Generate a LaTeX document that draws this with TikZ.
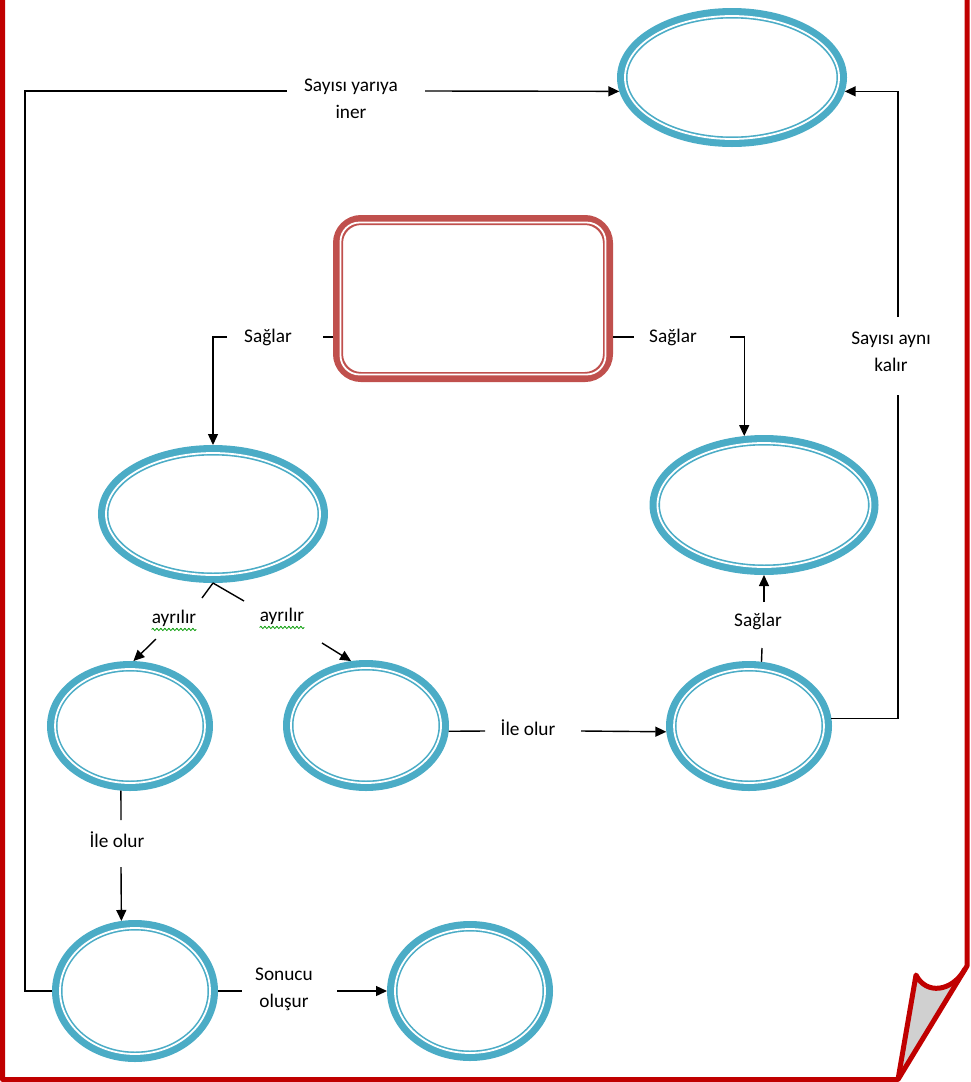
\documentclass[tikz,border=0pt]{standalone}
\usepackage{fontspec}
\setmainfont{Carlito}
\usetikzlibrary{arrows.meta,calc,decorations.pathmorphing,shapes.geometric}
\definecolor{ringblue}{HTML}{4BACC6}
\definecolor{boxred}{HTML}{C0504D}
\definecolor{pagered}{HTML}{C00000}
\definecolor{foldgray}{HTML}{D0D0D0}
\tikzset{
  ringnode/.style={ellipse, draw=ringblue, line width=10.5pt, inner sep=0pt, outer sep=5.25pt},
  ringline/.style={white, line width=1.8pt},
  conn/.style={line width=1.4pt, black},
  arr/.style={conn, -{Triangle[length=11pt,width=10pt]}},
  lbl/.style={inner sep=0pt, font=\fontsize{19.3}{27}\selectfont, align=center},
  wavy/.style={green!60!black, line width=0.8pt, decorate, decoration={snake, amplitude=1.1pt, segment length=4pt}},
  pageline/.style={pagered, line width=5pt, line join=round},
}
\newcommand\ringat[5]{%
  \node[ringnode, minimum width={2*(#4)-10.5}, minimum height={2*(#5)-10.5}] (#1) at (#2,#3) {};
  \draw[ringline] (#2,#3) ellipse [x radius={#4-8}, y radius={#5-8}];
}
\begin{document}
\begin{tikzpicture}[x=1pt,y=-1pt]
\useasboundingbox (0,0) rectangle (970,1082);
% page border and folded corner
\fill[foldgray] (916,975) .. controls (926,995) and (952,992) .. (965,970) -- (898,1079.5) -- cycle;
\draw[pageline] (967,0) -- (967,966) -- (898,1079.5) -- (2.5,1079.5) -- (2.5,0);
\draw[pageline] (965,969) .. controls (952,992) and (926,995) .. (916,975) -- (898,1079.5);
% central rounded box
\node[draw=boxred, line width=10pt, rounded corners=23pt, minimum width=270, minimum height=157, inner sep=0pt, outer sep=5pt] (R) at (473,298.5) {};
\draw[white, line width=1.8pt, rounded corners=19pt] ($(R.north west)+(7.5,7.5)$) rectangle ($(R.south east)+(-7.5,-7.5)$);
% ellipses
\ringat{E1}{732}{77.5}{115}{69.5}
\ringat{E2}{213}{514}{115}{69}
\ringat{E3}{764}{505}{114.5}{70}
\ringat{E4}{130}{726}{83}{65}
\ringat{E5}{366}{725.5}{83}{65.5}
\ringat{E6}{749}{726}{83}{65}
\ringat{E7}{135}{991}{83}{71}
\ringat{E8}{470}{991}{83}{70}
% labels
\node[lbl] (L1) at (351,99) {Sayısı yarıya\\iner};
\node[lbl] (L2) at (268,337) {Sağlar};
\node[lbl] (L3) at (673,337) {Sağlar};
\node[lbl] (L4) at (891,352) {Sayısı aynı\\kalır};
\node[lbl] (L5) at (174,618) {ayrılır};
\node[lbl] (L6) at (282,616) {ayrılır};
\node[lbl] (L7) at (758,621) {Sağlar};
\node[lbl] (L8) at (117,840) {İle olur};
\node[lbl] (L9) at (528,728) {İle olur};
\node[lbl] (L10) at (284,989) {Sonucu\\oluşur};
\draw[wavy] ([yshift=-3pt]L5.south west) -- ([yshift=-3pt]L5.south east);
\draw[wavy] ([yshift=-3pt]L6.south west) -- ([yshift=-3pt]L6.south east);
% connectors
\draw[conn] (E7.west) -| (25,91) -- (287,91);
\draw[arr] (425,91) -- (E1.187);
\draw[conn] (E6.5) -| (898,395);
\draw[arr] (898,317) |- (E1.-7);
\draw[conn] ([yshift=-38.5pt]R.west) -- (323,337);
\draw[arr] (227,337) -| (E2.north);
\draw[conn] ([yshift=-38.5pt]R.east) -- (634,337);
\draw[arr] (730,337) -| (E3.106);
\draw[conn] (E2.south) -- (202,598);
\draw[conn] (E2.south) -- (244,601);
\draw[arr] (156,639) -- (E4.87);
\draw[arr] (322,643) -- (E5.103);
\draw[conn] (E4.262) -- (121,820);
\draw[arr] (121,867) -- (E7.101);
\draw[conn] (E5.-4) -- (485,731);
\draw[arr] (581,731) -- (E6.184);
\draw[conn] (E6.79) -- (762,648);
\draw[arr] (764,602) -- (E3.south);
\draw[conn] (E7.east) -- (242,991);
\draw[arr] (337,991) -- (E8.west);
\end{tikzpicture}
\end{document}
